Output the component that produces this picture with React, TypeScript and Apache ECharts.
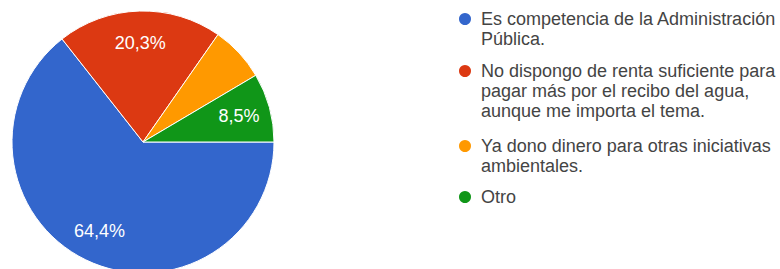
import React, { useEffect, useRef } from 'react';
import * as echarts from 'echarts';

const categories = [
  'Es competencia de la Administración Pública.',
  'No dispongo de renta suficiente para pagar más por el recibo del agua, aunque me importa el tema.',
  'Ya dono dinero para otras iniciativas ambientales.',
  'Otro',
];
const legendLines = [
  ['Es competencia de la Administración', 'Pública.'],
  ['No dispongo de renta suficiente para', 'pagar más por el recibo del agua,', 'aunque me importa el tema.'],
  ['Ya dono dinero para otras iniciativas', 'ambientales.'],
  ['Otro'],
];
const percentages = [64.4, 20.3, 6.8, 8.5];
const colors = ['#3366cc', '#dc3912', '#ff9900', '#109618'];

const FONT = '"Liberation Sans", Arial, sans-serif';
const LINE_H = 20;
const FIRST_LINE_CENTERS = [19, 71, 146, 197];

export default function App() {
  const ref = useRef<HTMLDivElement>(null);
  useEffect(() => {
    if (!ref.current) return;
    const chart = echarts.init(ref.current, undefined, { renderer: 'svg' });
    const legends = categories.map((name, i) => {
      const n = legendLines[i].length;
      // leading blank lines keep the icon level with the first text line
      const text = '\n'.repeat(n - 1) + legendLines[i].join('\n');
      return {
        show: true,
        orient: 'vertical',
        left: 457,
        top: FIRST_LINE_CENTERS[i] - LINE_H / 2 - (n - 1) * LINE_H,
        padding: 0,
        itemGap: 0,
        data: [name],
        icon: 'circle',
        itemWidth: 14,
        itemHeight: 14,
        selectedMode: false,
        formatter: () => text,
        textStyle: {
          color: '#444',
          fontSize: 18,
          lineHeight: LINE_H,
          fontFamily: FONT,
          padding: [0, 0, 0, 4],
        },
      };
    });
    chart.setOption({
      animation: false,
      backgroundColor: '#fff',
      legend: legends,
      series: [
        {
          type: 'pie',
          center: [143, 142],
          radius: 131,
          startAngle: 0,
          clockwise: true,
          avoidLabelOverlap: false,
          data: categories.map((name, i) => ({
            name,
            value: percentages[i],
            itemStyle: { color: colors[i] },
          })),
          label: { show: false },
          labelLine: { show: false },
          itemStyle: { borderColor: '#fff', borderWidth: 1 },
          emphasis: { disabled: true },
        },
        {
          type: 'pie',
          center: [143, 142],
          radius: [62, 131],
          startAngle: 0,
          clockwise: true,
          silent: true,
          avoidLabelOverlap: false,
          percentPrecision: 1,
          data: categories.map((name, i) => ({
            name: name + ' (label)',
            value: percentages[i],
          })),
          itemStyle: { color: 'rgba(0,0,0,0)', borderWidth: 0 },
          label: {
            show: true,
            position: 'inside',
            color: '#fff',
            fontSize: 18,
            fontFamily: FONT,
            formatter: (p: any) =>
              p.percent < 7 ? '' : p.percent.toFixed(1).replace('.', ',') + '%',
          },
          labelLine: { show: false },
          emphasis: { disabled: true },
        },
      ],
    });
    return () => chart.dispose();
  }, []);
  return (
    <div
      ref={ref}
      style={{ position: 'fixed', left: 0, top: 0, width: 780, height: 269 }}
    />
  );
}
